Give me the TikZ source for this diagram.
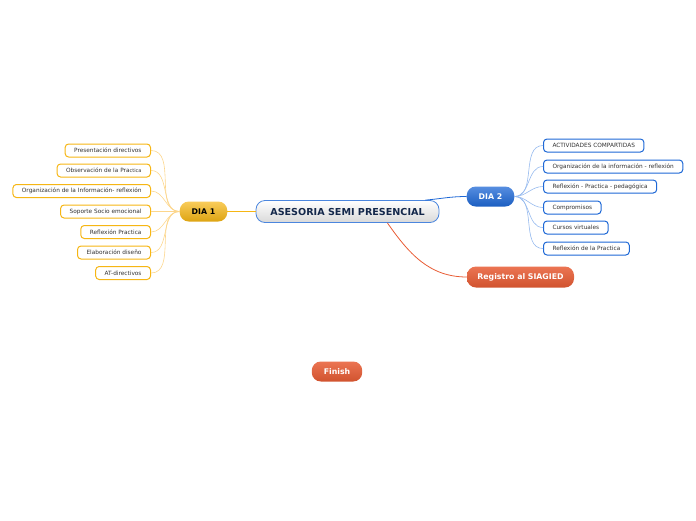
\documentclass[tikz,border=0pt]{standalone}
\usepackage{fontspec}
\setmainfont{DejaVu Sans}
\definecolor{naranja}{RGB}{246,182,20}
\definecolor{naranjaclaro}{RGB}{252,214,140}
\definecolor{azul}{RGB}{30,104,214}
\definecolor{azulclaro}{RGB}{150,186,238}
\definecolor{rojizo}{RGB}{232,92,52}
\definecolor{marino}{RGB}{20,40,75}
\tikzset{
  hoja/.style={draw,line width=1pt,rounded corners=3.5pt,fill=white,
    minimum height=13pt,inner xsep=9pt,inner ysep=0pt,font=\fontsize{5.8}{6.5}\selectfont,text=black!80},
  tema/.style={rounded corners=9pt,minimum height=20pt,inner xsep=12pt,
    font=\fontsize{7.8}{9}\selectfont\bfseries},
}
\begin{document}
\begin{tikzpicture}[x=1pt,y=-1pt]
            \useasboundingbox (0,0) rectangle (696,520);
            \node[tema,draw=azul!80,line width=0.8pt,top color=white,bottom color=gray!30,
                  minimum width=183pt,minimum height=22pt,text=marino,
                  font=\fontsize{9.6}{11}\selectfont\bfseries] (centro) at (347.5,211.5) {ASESORIA SEMI PRESENCIAL};
            \node[tema,top color=naranja!70,bottom color=naranja!90!black,minimum width=47pt,text=black] (dia1) at (203.5,211.5) {DIA 1};
            \node[tema,top color=azul!75,bottom color=azul!90!black,minimum width=47pt,text=white] (dia2) at (490.5,196.5) {DIA 2};
            \node[tema,top color=rojizo!85,bottom color=rojizo!90!black,minimum width=107pt,minimum height=21pt,inner xsep=9pt,text=white] (registro) at (520.5,277) {Registro al SIAGIED};
            \node[tema,top color=rojizo!85,bottom color=rojizo!90!black,minimum width=48pt,text=white] (finish) at (337,371.5) {Finish};
            % dia 1
            \foreach \n/\y/\t in {l1/150.5/{Presentación directivos},
                l2/170.5/{Observación de la Pra{\fontsize{5}{5}\selectfont ctica}},
                l3/191/{Organización de la Información- reflexión},
                l4/211.5/{Soporte Socio emocional},l5/232/{Reflexión Practica},
                l6/252.5/{Elaboración diseño},l7/273/{AT-directivos}}{
              \node[hoja,draw=naranja,anchor=east] (\n) at (151,\y) {\t};
              \draw[naranjaclaro,line width=0.6pt] (dia1.west) to[out=180,in=0] (\n.east);
            }
            % dia 2
            \foreach \n/\y/\t in {r1/145.5/{ACTIVIDADES COMPARTIDAS},
                r2/166.5/{Organización de la información - reflexión},
                r3/186.5/{Reflexión - Practica - pedagógica},r4/207.5/{Compromisos},
                r5/227.5/{Cursos virtuales},r6/248.5/{Reflexión de la Practica}}{
              \node[hoja,draw=azul,anchor=west] (\n) at (543,\y) {\t};
              \draw[azulclaro,line width=0.6pt] (dia2.east) to[out=0,in=180] (\n.west);
            }
            \draw[naranja,line width=0.8pt] (centro.west) -- (dia1.east);
            \draw[azul,line width=0.8pt] ([xshift=-14pt]centro.north east) to[out=5,in=180] (dia2.west);
            \draw[rojizo,line width=0.8pt] ([xshift=-52pt]centro.south east) to[out=-55,in=180] (registro.west);
        \end{tikzpicture}
\end{document}
